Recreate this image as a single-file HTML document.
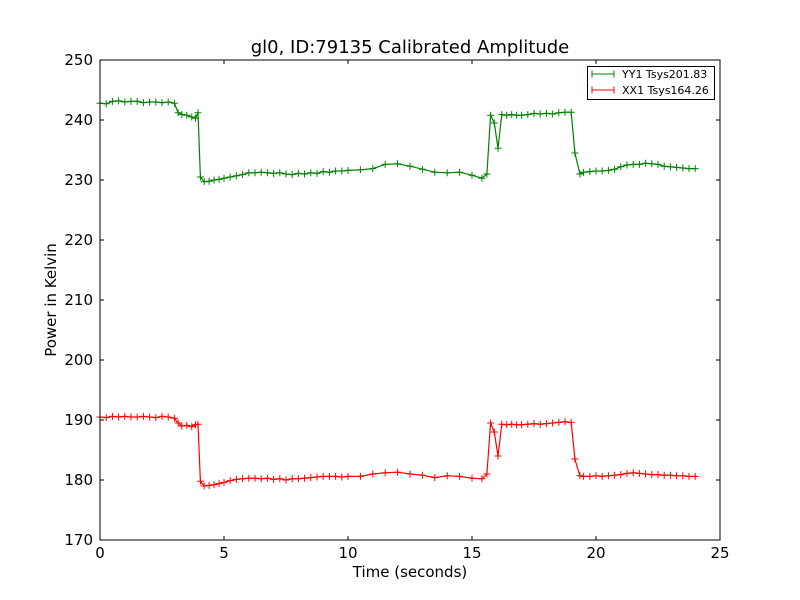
<!DOCTYPE html>
<html><head><meta charset="utf-8"><style>
body{margin:0;background:#fff}
svg{display:block;font-family:"DejaVu Sans","Liberation Sans",sans-serif}
</style></head><body>
<svg id="chart" width="800" height="600">
<rect x="0" y="0" width="800" height="600" fill="#fff"/>
<text x="410" y="53" text-anchor="middle" font-size="18">gl0, ID:79135 Calibrated Amplitude</text>
<g id="axes"></g>
<g id="series"></g>
<rect x="100" y="60" width="620" height="480" fill="none" stroke="#000" stroke-width="1"/>
<text x="410" y="577" text-anchor="middle" font-size="15">Time (seconds)</text>
<text transform="translate(56,300) rotate(-90)" text-anchor="middle" font-size="15">Power in Kelvin</text>
<g>
<rect x="587.5" y="66.5" width="127" height="33" fill="#fff" stroke="#000"/>
<g>
<line x1="592" y1="74" x2="614" y2="74" stroke="green"/>
<line x1="592" y1="70.5" x2="592" y2="77.5" stroke="green"/><line x1="614" y1="70.5" x2="614" y2="77.5" stroke="green"/>
<text x="622" y="78" font-size="11">YY1 Tsys201.83</text></g>
<g>
<line x1="592" y1="90" x2="614" y2="90" stroke="red"/>
<line x1="592" y1="86.5" x2="592" y2="93.5" stroke="red"/><line x1="614" y1="86.5" x2="614" y2="93.5" stroke="red"/>
<text x="622" y="94" font-size="11">XX1 Tsys164.26</text></g>
</g>
</svg>
<script>
const times=[0,0.25,0.5,0.75,1,1.25,1.5,1.75,2,2.25,2.5,2.75,3,3.15,3.3,3.5,3.7,3.85,3.95,4.05,4.2,4.4,4.6,4.8,5,5.25,5.5,5.75,6,6.25,6.5,6.75,7,7.25,7.5,7.75,8,8.25,8.5,8.75,9,9.25,9.5,9.75,10,10.5,11,11.5,12,12.5,13,13.5,14,14.5,15,15.4,15.6,15.75,15.9,16.05,16.2,16.4,16.6,16.8,17,17.25,17.5,17.75,18,18.25,18.5,18.75,19,19.15,19.35,19.5,19.75,20,20.25,20.5,20.75,21,21.25,21.5,21.75,22,22.25,22.5,22.75,23,23.25,23.5,23.75,24];
const yy1=[242.8,242.7,243.1,243.2,243.0,243.1,243.1,242.9,243.0,243.0,242.9,243.0,242.8,
241.2,240.9,240.8,240.5,240.3,241.2,
230.5,229.7,229.8,230.0,230.1,
230.3,230.5,230.7,230.9,231.2,231.2,231.3,231.2,231.1,231.2,231.0,230.9,231.1,231.0,231.2,231.1,231.4,231.3,231.5,231.5,231.6,
231.7,231.9,232.6,232.7,232.3,231.8,231.3,231.2,231.3,230.8,
230.3,231.0,240.8,239.5,235.3,
240.9,240.8,240.9,240.8,
240.8,240.9,241.1,241.0,241.1,241.0,241.2,241.3,241.3,
234.5,231.0,
231.3,231.4,231.5,231.5,231.6,231.8,232.2,232.5,232.6,232.6,232.8,232.7,232.6,232.3,232.2,232.1,232.0,231.9,231.9];
const xx1=[190.5,190.4,190.6,190.5,190.6,190.5,190.5,190.6,190.5,190.4,190.6,190.5,190.3,
189.5,189.0,189.1,188.9,189.2,189.3,
179.8,179.0,179.1,179.2,179.4,
179.6,179.9,180.1,180.2,180.3,180.3,180.2,180.3,180.1,180.2,180.0,180.2,180.2,180.3,180.4,180.5,180.6,180.6,180.6,180.5,180.6,
180.6,181.0,181.2,181.3,181.0,180.8,180.4,180.7,180.6,180.3,
180.2,181.0,189.5,188.0,184.0,
189.3,189.2,189.3,189.2,
189.2,189.3,189.4,189.3,189.4,189.5,189.6,189.7,189.6,
183.5,180.7,
180.6,180.6,180.7,180.6,180.7,180.8,180.9,181.1,181.2,181.1,181.0,180.9,180.9,180.8,180.8,180.7,180.7,180.6,180.6];
const xTicks=[0,5,10,15,20,25];
const yTicks=[170,180,190,200,210,220,230,240,250];
const X0=100,X1=720,Y0=540,Y1=60,xMin=0,xMax=25,yMin=170,yMax=250;
const sx=v=>X0+(v-xMin)/(xMax-xMin)*(X1-X0);
const sy=v=>Y0-(v-yMin)/(yMax-yMin)*(Y0-Y1);
const NS="http://www.w3.org/2000/svg";
function mk(tag,attrs,parent){const e=document.createElementNS(NS,tag);for(const k in attrs)e.setAttribute(k,attrs[k]);parent.appendChild(e);return e;}
const axes=document.getElementById('axes');
xTicks.forEach(t=>{const x=sx(t);
const g=mk('g',{},axes);


mk('line',{x1:x,y1:540,x2:x,y2:536,stroke:'#000'},g);
mk('line',{x1:x,y1:60,x2:x,y2:64,stroke:'#000'},g);
const tx=mk('text',{x:x,y:558,'text-anchor':'middle','font-size':15},g);tx.textContent=t;});
yTicks.forEach(t=>{const y=sy(t);
const g=mk('g',{},axes);


mk('line',{x1:100,y1:y,x2:104,y2:y,stroke:'#000'},g);
mk('line',{x1:720,y1:y,x2:716,y2:y,stroke:'#000'},g);
const tx=mk('text',{x:93,y:y+5,'text-anchor':'end','font-size':15},g);tx.textContent=t;});
const sg=document.getElementById('series');
function drawSeries(vals,color,name){
const g=mk('g',{},sg);


const pts=times.map((t,i)=>sx(t).toFixed(1)+','+sy(vals[i]).toFixed(1)).join(' ');
mk('polyline',{points:pts,fill:'none',stroke:color,'stroke-width':1.2},g);
times.forEach((t,i)=>{const x=sx(t),y=sy(vals[i]);
const p=mk('path',{d:`M${x-3.5},${y}H${x+3.5}M${x},${y-3.5}V${y+3.5}`,stroke:color,'stroke-width':1},g);

});
}
drawSeries(yy1,'green','series-yy1');
drawSeries(xx1,'red','series-xx1');
</script>
</body></html>
